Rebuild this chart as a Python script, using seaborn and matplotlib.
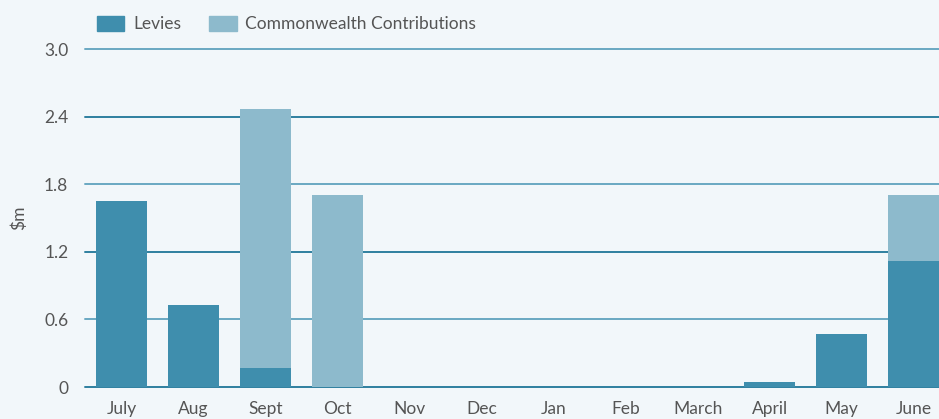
import numpy as np
import matplotlib
matplotlib.use('Agg')
import matplotlib.pyplot as plt
import matplotlib.patches as mpatches
import pandas as pd
import seaborn as sns

# data ($m)
months = ['July', 'Aug', 'Sept', 'Oct', 'Nov', 'Dec', 'Jan', 'Feb', 'March', 'April', 'May', 'June']
levies = [1.65, 0.73, 0.17, 0.0, 0.0, 0.0, 0.0, 0.0, 0.0, 0.04, 0.47, 1.12]
commonwealth = [0.0, 0.0, 2.30, 1.70, 0.0, 0.0, 0.0, 0.0, 0.0, 0.0, 0.0, 0.58]
yticks = [0, 0.6, 1.2, 1.8, 2.4, 3.0]
ytick_labels = ['0', '0.6', '1.2', '1.8', '2.4', '3.0']

bg = '#f2f7fa'
c_lev = '#3f8ead'
c_com = '#8dbacc'
txt = '#555555'
fs = 12.5

sns.set_style('white')
plt.rcParams['font.family'] = ['Lato', 'DejaVu Sans']

df = pd.DataFrame({'month': months, 'levies': levies, 'commonwealth': commonwealth})
df['total'] = df['levies'] + df['commonwealth']

fig = plt.figure(figsize=(9.39, 4.19), dpi=100, facecolor=bg)
ax = fig.add_axes([85 / 939, 32 / 419, 854 / 939, 338 / 419])
ax.set_facecolor(bg)

# grid lines, alternating shades
for i, v in enumerate(yticks):
    col = '#2e7f9f' if i % 2 == 0 else '#6aa8c2'
    ax.axhline(v, color=col, lw=1.4, zorder=0, clip_on=False)

sns.barplot(data=df, x='month', y='total', color=c_com, width=0.71,
            saturation=1, linewidth=0, ax=ax, zorder=2)
sns.barplot(data=df, x='month', y='levies', color=c_lev, width=0.71,
            saturation=1, linewidth=0, ax=ax, zorder=3)

ax.set_xlim(-0.507, 11.35)
ax.set_ylim(0, 3.0)
ax.set_yticks(yticks)
ax.set_yticklabels(ytick_labels)
ax.tick_params(axis='both', length=0, labelsize=fs, colors=txt)
ax.tick_params(axis='y', pad=12)
ax.tick_params(axis='x', pad=10)
ax.set_xlabel('')
ax.set_ylabel('$m', fontsize=fs, color=txt, labelpad=12)
for s in ax.spines.values():
    s.set_visible(False)

handles = [mpatches.Patch(color=c_lev, label='Levies'),
           mpatches.Patch(color=c_com, label='Commonwealth Contributions')]
fig.legend(handles=handles, loc='upper left', bbox_to_anchor=(81 / 939, 1.0),
           ncol=2, frameon=False, fontsize=fs, handlelength=1.6, handleheight=1.0,
           columnspacing=1.6, handletextpad=0.5, labelcolor=txt)

fig.savefig('out.png', dpi=100, facecolor=bg)
